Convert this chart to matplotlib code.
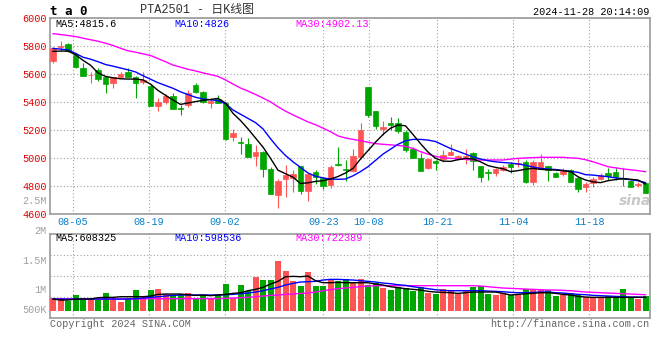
import numpy as np
import pandas as pd
import matplotlib
matplotlib.use("Agg")
import matplotlib.pyplot as plt

plt.rcParams['font.family'] = ['Liberation Mono', 'Noto Sans CJK SC', 'DejaVu Sans']

# ---- data (PTA2501) ----
# trading days 2024-07-31 .. 2024-11-28 (mid-autumn + national day closed)
holidays = ['2024-09-16', '2024-09-17', '2024-10-01', '2024-10-02',
            '2024-10-03', '2024-10-04', '2024-10-07']
days = pd.bdate_range('2024-07-31', '2024-11-28')
days = days[~days.isin(pd.to_datetime(holidays))]
dates = [d.strftime('%m-%d') for d in days]

opens = [5697, 5795, 5816, 5738, 5647, 5592, 5631, 5583, 5540, 5583,
         5619, 5583, 5543, 5516, 5376, 5400, 5447, 5362, 5381, 5524,
         5476, 5393, 5421, 5397, 5150, 5119, 5102, 5019, 5047, 4924,
         4738, 4850, 4857, 4945, 4769, 4902, 4857, 4812, 4957, 4920,
         4909, 5007, 5512, 5338, 5212, 5250, 5254, 5190, 5064, 5000,
         4933, 4981, 4993, 5024, 4993, 5007, 5035, 4945, 4904, 4897,
         4916, 4959, 4959, 4974, 4833, 4924, 4945, 4897, 4888, 4916,
         4857, 4797, 4826, 4852, 4897, 4904, 4859, 4840, 4809, 4821]
highs = [5797, 5840, 5822, 5750, 5678, 5619, 5643, 5590, 5583, 5619,
         5643, 5588, 5619, 5528, 5433, 5457, 5464, 5381, 5488, 5536,
         5483, 5428, 5455, 5402, 5209, 5150, 5147, 5095, 5050, 4935,
         4850, 4950, 4917, 4948, 4897, 4916, 4864, 4952, 5078, 4988,
         5064, 5254, 5512, 5338, 5266, 5297, 5285, 5200, 5078, 5035,
         5000, 4988, 5059, 5102, 5024, 5064, 5043, 4945, 4921, 4928,
         4952, 4971, 5004, 4988, 4988, 5028, 4945, 4900, 4928, 4921,
         4864, 4833, 4869, 4897, 4928, 4928, 4928, 4845, 4833, 4825]
lows = [5683, 5769, 5760, 5643, 5585, 5540, 5555, 5464, 5505, 5571,
        5578, 5433, 5528, 5376, 5340, 5385, 5350, 5309, 5369, 5464,
        5397, 5362, 5393, 5131, 5124, 5031, 5007, 4945, 4869, 4745,
        4643, 4726, 4762, 4745, 4697, 4816, 4778, 4785, 4947, 4840,
        4905, 4993, 5297, 5209, 5166, 5202, 5178, 5047, 5000, 4912,
        4920, 4916, 4976, 5024, 4988, 4957, 4916, 4833, 4845, 4874,
        4909, 4893, 4940, 4826, 4809, 4924, 4838, 4864, 4874, 4833,
        4762, 4762, 4793, 4845, 4845, 4845, 4802, 4797, 4793, 4754]
closes = [5785, 5800, 5766, 5652, 5588, 5597, 5566, 5531, 5578, 5605,
          5581, 5540, 5559, 5376, 5400, 5447, 5350, 5355, 5464, 5476,
          5405, 5412, 5397, 5138, 5183, 5107, 5007, 5047, 4924, 4745,
          4840, 4881, 4887, 4769, 4888, 4864, 4805, 4940, 4952, 4914,
          5016, 5202, 5309, 5233, 5221, 5238, 5197, 5059, 5000, 4912,
          4993, 4964, 5024, 5047, 5016, 5016, 4983, 4864, 4897, 4921,
          4940, 4940, 4964, 4833, 4976, 4976, 4916, 4869, 4909, 4833,
          4778, 4816, 4852, 4881, 4874, 4869, 4850, 4797, 4816, 4754]

# moving averages as drawn on the chart
ma5 = [5764, 5766, 5766, 5740, 5700, 5665, 5610, 5585, 5575, 5568,
       5566, 5566, 5560, 5530, 5485, 5450, 5416, 5385, 5395, 5405,
       5414, 5420, 5428, 5395, 5321, 5270, 5210, 5145, 5080, 5000,
       4915, 4890, 4865, 4820, 4825, 4835, 4840, 4852, 4870, 4895,
       4928, 4995, 5055, 5115, 5170, 5215, 5238, 5232, 5170, 5105,
       5045, 5000, 4980, 4978, 4990, 5000, 4995, 4975, 4948, 4935,
       4925, 4905, 4912, 4922, 4928, 4921, 4918, 4916, 4912, 4905,
       4868, 4845, 4832, 4826, 4840, 4848, 4855, 4850, 4845, 4816]
ma10 = [5785, 5780, 5774, 5750, 5722, 5708, 5690, 5670, 5658, 5645,
        5632, 5617, 5590, 5565, 5540, 5520, 5500, 5475, 5455, 5436,
        5424, 5418, 5412, 5390, 5345, 5315, 5285, 5255, 5210, 5140,
        5075, 5020, 4975, 4935, 4895, 4872, 4860, 4852, 4850, 4852,
        4875, 4905, 4940, 4985, 5030, 5065, 5100, 5125, 5135, 5135,
        5130, 5120, 5095, 5070, 5050, 5030, 5010, 4995, 4983, 4975,
        4970, 4966, 4960, 4950, 4938, 4928, 4923, 4920, 4913, 4906,
        4900, 4883, 4880, 4874, 4868, 4860, 4855, 4847, 4840, 4826]
ma30 = [5890, 5884, 5877, 5870, 5858, 5847, 5836, 5822, 5806, 5786,
        5768, 5758, 5746, 5734, 5712, 5690, 5666, 5651, 5636, 5624,
        5610, 5598, 5585, 5560, 5530, 5502, 5480, 5456, 5430, 5403,
        5368, 5337, 5310, 5285, 5260, 5240, 5215, 5190, 5160, 5145,
        5135, 5126, 5115, 5105, 5100, 5096, 5092, 5085, 5070, 5047,
        5030, 5014, 5004, 5000, 4996, 4992, 4988, 4988, 4988, 4988,
        4988, 4994, 5000, 5002, 5005, 5007, 5007, 5007, 5007, 5003,
        5000, 4990, 4975, 4958, 4940, 4932, 4924, 4918, 4912, 4904]

# volume, thousand lots
volume = [559, 559, 438, 710, 559, 559, 483, 785, 559, 408,
          559, 936, 604, 936, 982, 740, 710, 740, 785, 559,
          710, 529, 740, 1208, 589, 1163, 906, 1510, 1389, 1389,
          2250, 1797, 1344, 1117, 1752, 1117, 1117, 1389, 1344, 1419,
          1284, 1435, 1163, 1238, 1042, 936, 1087, 1012, 906, 1057,
          815, 755, 982, 936, 740, 936, 1087, 1133, 755, 710,
          815, 710, 710, 966, 966, 966, 936, 680, 710, 785,
          740, 604, 604, 604, 680, 634, 966, 634, 529, 680]
vol_ma5 = [528, 483, 483, 528, 528, 528, 589, 604, 604, 634,
           634, 634, 634, 664, 740, 755, 755, 755, 725, 695,
           710, 680, 710, 740, 785, 815, 906, 966, 1057, 1208,
           1329, 1540, 1555, 1540, 1570, 1359, 1268, 1268, 1284, 1268,
           1268, 1268, 1268, 1208, 1163, 1087, 1042, 997, 966, 936,
           876, 846, 830, 815, 785, 815, 846, 846, 846, 846,
           785, 710, 740, 770, 785, 815, 815, 785, 740, 710,
           649, 619, 604, 604, 604, 604, 604, 604, 604, 608]
vol_ma10 = [528, 528, 528, 528, 528, 528, 528, 528, 528, 528,
            528, 544, 574, 604, 634, 664, 695, 710, 710, 710,
            710, 710, 710, 725, 740, 770, 800, 846, 906, 982,
            1057, 1163, 1238, 1299, 1314, 1329, 1389, 1419, 1419, 1404,
            1389, 1359, 1329, 1299, 1253, 1223, 1178, 1148, 1087, 1042,
            997, 951, 921, 906, 906, 906, 906, 906, 891, 876,
            861, 830, 815, 815, 830, 846, 846, 815, 800, 770,
            740, 725, 695, 680, 664, 649, 634, 619, 619, 598]
vol_ma30 = [513, 528, 528, 528, 528, 528, 528, 528, 528, 528,
            528, 528, 528, 544, 544, 544, 544, 544, 544, 544,
            544, 544, 544, 559, 574, 589, 604, 634, 664, 695,
            710, 740, 755, 785, 800, 846, 906, 951, 997, 1027,
            1057, 1087, 1117, 1133, 1133, 1133, 1133, 1133, 1133, 1133,
            1133, 1133, 1133, 1133, 1133, 1133, 1133, 1117, 1087, 1057,
            1027, 1012, 997, 982, 966, 951, 936, 936, 921, 906,
            876, 846, 830, 815, 800, 785, 770, 755, 740, 722]

tick_dates = ['08-05', '08-19', '09-02', '09-23', '10-08', '10-21', '11-04', '11-18']

# ---- styles ----
UP = '#ff5454'
DOWN = '#00a600'
GRID = dict(color='#a0a0a0', linestyle=(0, (1, 2)), linewidth=0.8)
W, H = 660, 360


def fig_xy(x, y):
    # pixel position (from top left) -> figure fraction
    return x / W, 1 - y / H


fig = plt.figure(figsize=(6.6, 3.6), dpi=100)
fig.patch.set_facecolor('white')

ax = fig.add_axes([50 / W, 1 - 214.3 / H, 600 / W, 196 / H])
axv = fig.add_axes([50 / W, 1 - 318.3 / H, 600 / W, 84 / H])

n = len(closes)
x = np.arange(n)
o, h, l, c = map(np.array, (opens, highs, lows, closes))
up = c >= o
colors = np.where(up, UP, DOWN)

# date grid is spaced a bit wider than the candles on sina charts
tick_idx = np.array([dates.index(d) for d in tick_dates])
tick_pos = tick_idx * n / (n - 1) - 0.4

# ---- price panel ----
ax.vlines(x, l, h, colors=colors, linewidth=0.8, zorder=3)
ax.bar(x, np.abs(c - o), bottom=np.minimum(o, c), width=0.75,
       color=colors, edgecolor=colors, linewidth=0.5, zorder=4)
ax.plot(x, ma30, color='#ff00ff', linewidth=1.0, zorder=5)
ax.plot(x, ma10, color='#0000ff', linewidth=1.0, zorder=5)
ax.plot(x, ma5, color='black', linewidth=1.0, zorder=5)

ax.set_xlim(-0.4, n - 0.4)
ax.set_ylim(4600, 6000)
ax.set_yticks(range(4600, 6001, 200))
ax.set_yticklabels([str(v) for v in range(4600, 6001, 200)],
                   color='#e00000', fontsize=7.3)
ax.set_xticks(tick_pos)
ax.set_xticklabels(tick_dates, color='#0a7fc8', fontsize=7.3)
ax.tick_params(length=0, pad=2.5)
ax.tick_params(axis='x', pad=2)
ax.grid(True, **GRID)
ax.set_axisbelow(True)

ax.text(5 / 600, 1 - 5.5 / 196, 'MA5:4815.6', transform=ax.transAxes,
        color='black', fontsize=7.3, va='center')
ax.text(124 / 600, 1 - 5.5 / 196, 'MA10:4826', transform=ax.transAxes,
        color='#0000ff', fontsize=7.3, va='center')
ax.text(245 / 600, 1 - 5.5 / 196, 'MA30:4902.13', transform=ax.transAxes,
        color='#ff00ff', fontsize=7.3, va='center')

# faint sina mark
ax.text(0.975, 0.07, 'sina', transform=ax.transAxes, ha='center',
        va='center', fontsize=10, fontweight='bold', style='italic',
        color='#c8c8c8', family='DejaVu Sans', zorder=2)

# ---- volume panel ----
axv.bar(x, volume, width=0.8, color=colors, linewidth=0, zorder=3)
axv.plot(x, vol_ma30, color='#ff00ff', linewidth=1.0, zorder=4)
axv.plot(x, vol_ma10, color='#0000ff', linewidth=1.0, zorder=4)
axv.plot(x, vol_ma5, color='black', linewidth=1.0, zorder=4)

vlo, vhi = -344, 3461
axv.set_xlim(-0.4, n - 0.4)
axv.set_ylim(vlo, vhi)
axv.set_xticks(tick_pos)
axv.set_xticklabels([])
axv.set_yticks(np.linspace(vlo, vhi, 5)[1:-1])
axv.set_yticklabels([])
axv.tick_params(length=0)
axv.grid(True, **GRID)
axv.set_axisbelow(True)

axv.text(5 / 600, 1 - 4 / 84, 'MA5:608325', transform=axv.transAxes,
         color='black', fontsize=7.3, va='center')
axv.text(124 / 600, 1 - 4 / 84, 'MA10:598536', transform=axv.transAxes,
         color='#0000ff', fontsize=7.3, va='center')
axv.text(245 / 600, 1 - 4 / 84, 'MA30:722389', transform=axv.transAxes,
         color='#ff00ff', fontsize=7.3, va='center')

for a in (ax, axv):
    for s in a.spines.values():
        s.set_color('#9a9a9a')
        s.set_linewidth(1.2)

# volume scale labels sit where sina puts them
for lab, yy in [('2M', 230.7), ('1.5M', 261), ('1M', 290), ('500K', 310)]:
    fig.text(*fig_xy(46.5, yy), lab, ha='right', va='center',
             color='#a0a0a0', fontsize=7.3)
fig.text(*fig_xy(46.5, 200.7), '2.5M', ha='right', va='center',
         color='#a0a0a0', fontsize=7.3)

# ---- header / footer ----
fig.text(*fig_xy(50, 11.5), 't a 0', ha='left', va='center',
         fontsize=9, fontweight='bold', family='DejaVu Sans Mono')
fig.text(*fig_xy(140, 10.5), 'PTA2501 - 日K线图', ha='left', va='center',
         fontsize=8.6, color='#333333')
fig.text(*fig_xy(649.5, 12), '2024-11-28 20:14:09', ha='right', va='center',
         fontsize=7.3, color='black')
fig.text(*fig_xy(50, 324), 'Copyright 2024 SINA.COM', ha='left',
         va='center', fontsize=7.3, color='#666666')
fig.text(*fig_xy(649.5, 324), 'http://finance.sina.com.cn', ha='right',
         va='center', fontsize=7.3, color='#666666')

fig.savefig('out.png', dpi=100)
